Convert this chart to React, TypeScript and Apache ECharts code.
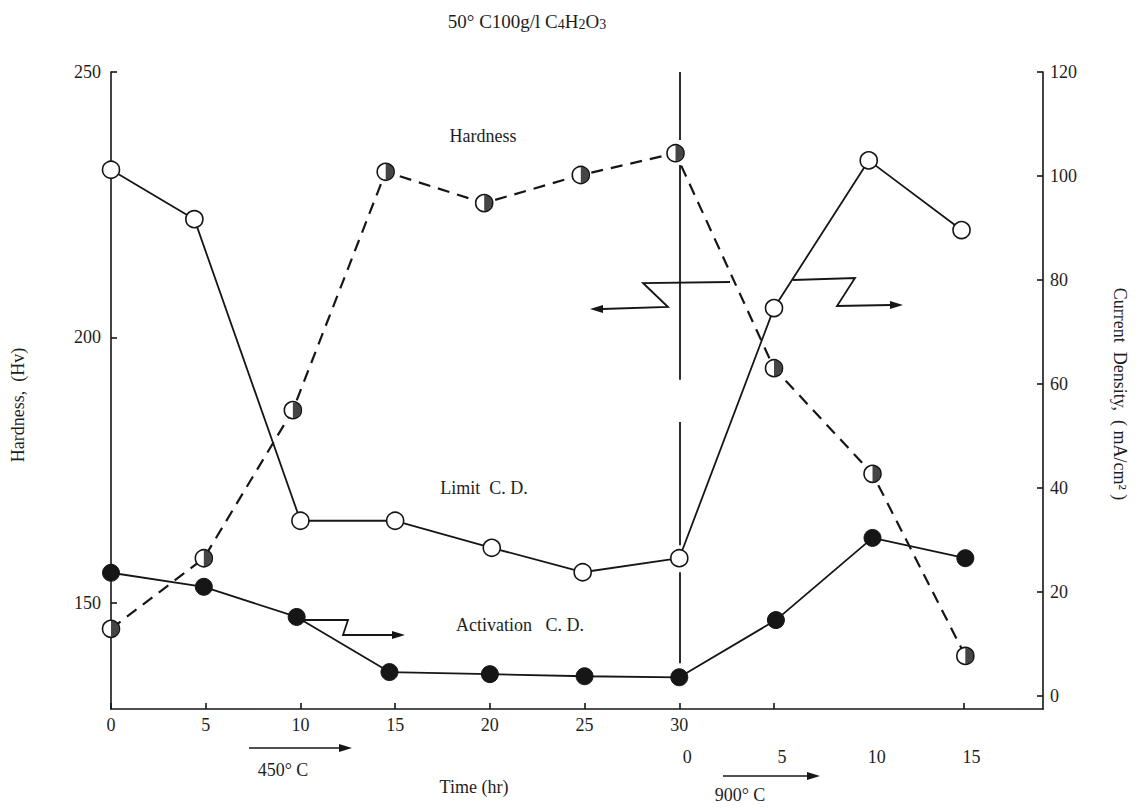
import React, { useEffect, useRef } from "react";
import * as echarts from "echarts";

// Time axis: the 900°C stage continues after the 30 h of the 450°C stage,
// so its hours are stored on the same scale, offset by 30.
const firstStageLabels = [0, 5, 10, 15, 20, 25, 30];
const secondStageLabels = [30, 35, 40, 45];
const timeTicks = [0, 5, 10, 15, 20, 25, 30, 35, 45];
const hardnessLabels = [150, 200, 250];
const currentLabels = [0, 20, 40, 60, 80, 100, 120];

// Hardness (Hv), left axis
const hardnessTime = [0, 4.9, 9.6, 14.5, 19.7, 24.8, 29.8, 35.0, 40.2, 45.1];
const hardness = [145.1, 158.4, 186.3, 231.2, 225.3, 230.6, 234.7, 194.2, 174.3, 140.0];

// Limit current density (mA/cm²), right axis
const limitTime = [0, 4.4, 10, 15, 20.1, 24.9, 30, 35, 40, 44.9];
const limitCD = [101.2, 91.7, 33.7, 33.7, 28.5, 23.8, 26.5, 74.6, 103.0, 89.6];

// Activation current density (mA/cm²), right axis
const activationTime = [0, 4.9, 9.8, 14.7, 20, 25, 30, 35.1, 40.2, 45.1];
const activationCD = [23.7, 21.0, 15.2, 4.6, 4.2, 3.8, 3.6, 14.6, 30.4, 26.5];

// Stage boundary at 30 h, drawn as broken segments (current-density units)
const boundarySegments = [
  [120, 106.9],
  [102.1, 60.8],
  [52.7, 29.0],
  [23.8, 6.3],
];

const INK = "#161616";
const FONT = "'Liberation Serif', 'DejaVu Serif', serif";

const zip = (xs: number[], ys: number[]) => xs.map((x, i) => [x, ys[i]]);

function arrowHead(x: number, y: number, dir: 1 | -1) {
  return {
    type: "polygon",
    shape: { points: [[x, y], [x - dir * 13, y - 4], [x - dir * 13, y + 4]] },
    style: { fill: INK },
    silent: true,
  };
}

function polyline(points: number[][], width = 1.8) {
  return {
    type: "polyline",
    shape: { points },
    style: { stroke: INK, lineWidth: width, fill: "none" },
    silent: true,
  };
}

function label(text: string, x: number, y: number, size = 18, rotation = 0) {
  return {
    type: "text",
    x,
    y,
    rotation,
    style: {
      text,
      font: `${size}px ${FONT}`,
      fill: "#1e1e1e",
      textAlign: "center",
      textVerticalAlign: "middle",
    },
    silent: true,
  };
}

export default function App() {
  const ref = useRef<HTMLDivElement>(null);

  useEffect(() => {
    if (!ref.current) return;
    const chart = echarts.init(ref.current, undefined, { renderer: "svg" });

    const axisLine = { show: true, onZero: false, lineStyle: { color: INK, width: 1.6 } };
    const tickStyle = { color: INK, width: 1.6 };
    const labelStyle = { fontFamily: FONT, fontSize: 18, color: "#1e1e1e" };

    chart.setOption({
      animation: false,
      backgroundColor: "#ffffff",
      grid: {
        left: 111,
        top: 72,
        width: 932,
        height: 637,
        containLabel: false,
        outerBoundsMode: "none",
      },
      xAxis: [
        {
          type: "value",
          min: 0,
          max: 49.2,
          position: "bottom",
          axisLine,
          axisTick: { show: true, inside: true, length: 6, customValues: timeTicks, lineStyle: tickStyle },
          axisLabel: { ...labelStyle, margin: 7, customValues: firstStageLabels },
          splitLine: { show: false },
        },
        {
          type: "value",
          min: 0,
          max: 49.2,
          position: "bottom",
          offset: 33,
          axisLine: { show: false, onZero: false },
          axisTick: { show: false },
          axisLabel: {
            ...labelStyle,
            margin: 6,
            customValues: secondStageLabels,
            formatter: (v: number) => String(v - 30),
            padding: [0, 0, 0, 16],
          },
          splitLine: { show: false },
        },
      ],
      yAxis: [
        {
          type: "value",
          min: 130,
          max: 250,
          position: "left",
          axisLine,
          axisTick: { show: true, inside: true, length: 6, customValues: hardnessLabels, lineStyle: tickStyle },
          axisLabel: { ...labelStyle, margin: 10, customValues: hardnessLabels },
          splitLine: { show: false },
        },
        {
          type: "value",
          min: -2.5,
          max: 120,
          position: "right",
          axisLine,
          axisTick: { show: true, inside: true, length: 6, customValues: currentLabels, lineStyle: tickStyle },
          axisLabel: { ...labelStyle, margin: 7, customValues: currentLabels },
          splitLine: { show: false },
        },
      ],
      series: [
        {
          name: "Hardness",
          type: "line",
          xAxisIndex: 0,
          yAxisIndex: 0,
          data: zip(hardnessTime, hardness),
          symbol: "circle",
          symbolSize: 17,
          lineStyle: { color: INK, width: 2.2, type: [12, 8] },
          itemStyle: { color: "#ffffff", borderColor: INK, borderWidth: 1.6 },
          z: 3,
        },
        {
          name: "Hardness half",
          type: "scatter",
          xAxisIndex: 0,
          yAxisIndex: 0,
          data: zip(hardnessTime, hardness),
          symbol: "path://M0,-10A10,10 0 0 1 0,10Z",
          symbolSize: [8, 16],
          symbolOffset: [4, 0],
          itemStyle: { color: INK },
          z: 4,
          silent: true,
        },
        {
          name: "Limit C.D.",
          type: "line",
          xAxisIndex: 0,
          yAxisIndex: 1,
          data: zip(limitTime, limitCD),
          symbol: "circle",
          symbolSize: 17,
          lineStyle: { color: INK, width: 1.8 },
          itemStyle: { color: "#ffffff", borderColor: INK, borderWidth: 1.6 },
          z: 3,
          markLine: {
            silent: true,
            symbol: ["none", "none"],
            label: { show: false },
            lineStyle: { color: INK, width: 1.8, type: "solid" },
            data: boundarySegments.map(([a, b]) => [{ coord: [30, a] }, { coord: [30, b] }]),
          },
        },
        {
          name: "Activation C.D.",
          type: "line",
          xAxisIndex: 0,
          yAxisIndex: 1,
          data: zip(activationTime, activationCD),
          symbol: "circle",
          symbolSize: 17,
          lineStyle: { color: INK, width: 1.8 },
          itemStyle: { color: INK, borderColor: INK, borderWidth: 1 },
          z: 3,
        },
      ],
      graphic: [
        {
          type: "text",
          x: 527,
          y: 21,
          style: {
            text: "{n|50° C100g/l C}{s|4}{n|H}{s|2}{n|O}{s|3}",
            rich: {
              n: { font: `19px ${FONT}`, fill: "#1e1e1e" },
              s: { font: `14px ${FONT}`, fill: "#1e1e1e", padding: [6, 0, 0, 0] },
            },
            textAlign: "center",
            textVerticalAlign: "middle",
          },
          silent: true,
        },
        label("Hardness", 483, 136),
        label("Limit  C. D.", 484, 488),
        label("Activation   C. D.", 520, 625),
        label("Hardness,  (Hv)", 18, 405, 18, Math.PI / 2),
        label("Current  Density,  ( mA/cm² )", 1120, 394, 18, -Math.PI / 2),
        label("Time (hr)", 474, 787),
        label("450° C", 283, 770, 18),
        label("900° C", 740, 795, 18),
        // arrow from the activation curve
        polyline([[299, 620], [348, 620], [343, 635], [393, 635]]),
        arrowHead(405, 635, 1),
        // arrows on either side of the stage boundary
        polyline([[730, 282], [643, 283], [668, 307], [602, 309]]),
        arrowHead(590, 309, -1),
        polyline([[793, 280], [855, 278], [837, 306], [891, 305]]),
        arrowHead(903, 305, 1),
        // stage arrows below the time axis
        polyline([[249, 748], [340, 748]], 1.6),
        arrowHead(352, 748, 1),
        polyline([[723, 776], [808, 776]], 1.6),
        arrowHead(820, 776, 1),
      ],
    });

    return () => chart.dispose();
  }, []);

  return (
    <div
      ref={ref}
      style={{ position: "absolute", left: 0, top: 0, width: 1141, height: 808, background: "#fff" }}
    />
  );
}
